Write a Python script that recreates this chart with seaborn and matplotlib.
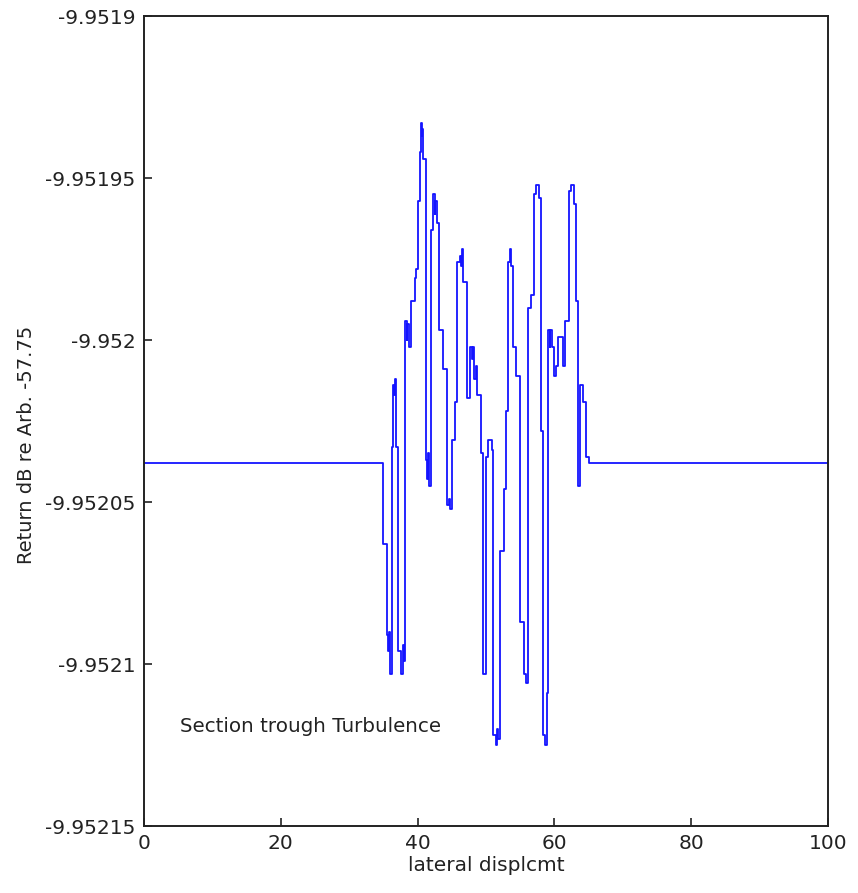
import numpy as np
import pandas as pd
import seaborn as sns
import matplotlib.pyplot as plt

# step edges (lateral displacement) and the level held from each edge on
edges = [0, 35.0, 35.5, 35.7, 35.8, 35.9, 36.0, 36.2, 36.4, 36.6,
         36.7, 36.9, 37.2, 37.6, 37.8, 38.0, 38.2, 38.4, 38.5, 38.7,
         39.1, 39.6, 39.8, 40.0, 40.3, 40.5, 40.6, 40.7, 40.8, 41.2,
         41.4, 41.5, 41.6, 42.0, 42.3, 42.5, 42.6, 42.8, 43.1, 43.7,
         44.3, 44.6, 44.8, 45.0, 45.4, 45.8, 46.2, 46.4, 46.5, 46.7,
         47.2, 47.6, 47.9, 48.1, 48.3, 48.5, 48.7, 49.3, 49.5, 50.0,
         50.3, 50.9, 51.1, 51.4, 51.6, 51.8, 52.0, 52.6, 52.9, 53.2,
         53.5, 53.7, 54.0, 54.4, 55.0, 55.5, 55.8, 56.1, 56.6, 57.0,
         57.3, 57.8, 58.1, 58.3, 58.6, 58.9, 59.1, 59.3, 59.4, 59.6,
         60.0, 60.3, 60.6, 61.3, 61.6, 62.1, 62.5, 62.9, 63.2, 63.4,
         63.5, 63.8, 64.2, 64.6, 65.0, 100]
levels = [-9.952038, -9.952063, -9.952091, -9.952096, -9.952090, -9.952099, -9.952103, -9.952033, -9.952014, -9.952017,
          -9.952012, -9.952033, -9.952096, -9.952103, -9.952094, -9.952099, -9.951994, -9.952000, -9.951995, -9.952002,
          -9.951988, -9.951981, -9.951978, -9.951957, -9.951942, -9.951933, -9.951937, -9.951935, -9.951944, -9.952037,
          -9.952043, -9.952035, -9.952045, -9.951966, -9.951955, -9.951961, -9.951957, -9.951964, -9.951997, -9.952009,
          -9.952051, -9.952049, -9.952052, -9.952031, -9.952019, -9.951976, -9.951974, -9.951977, -9.951972, -9.951982,
          -9.952018, -9.952002, -9.952006, -9.952002, -9.952012, -9.952008, -9.952017, -9.952035, -9.952103, -9.952036,
          -9.952031, -9.952034, -9.952122, -9.952125, -9.952120, -9.952123, -9.952065, -9.952046, -9.952022, -9.951976,
          -9.951972, -9.951977, -9.952002, -9.952011, -9.952087, -9.952103, -9.952106, -9.951990, -9.951986, -9.951955,
          -9.951952, -9.951956, -9.952028, -9.952122, -9.952125, -9.952109, -9.951997, -9.952002, -9.951997, -9.952002,
          -9.952011, -9.952008, -9.951999, -9.952008, -9.951994, -9.951954, -9.951952, -9.951958, -9.951988, -9.952039,
          -9.952045, -9.952014, -9.952019, -9.952036, -9.952038, -9.952038]

yticks = [-9.9519, -9.95195, -9.952, -9.95205, -9.9521, -9.95215]
ytick_labels = ['-9.9519', '-9.95195', '-9.952', '-9.95205', '-9.9521', '-9.95215']
xticks = [0, 20, 40, 60, 80, 100]

df = pd.DataFrame({'x': edges, 'y': levels})

sns.set_style('white')
fig = plt.figure(figsize=(8.58, 8.93), dpi=100)
ax = fig.add_axes([0.1678, 0.075, 0.7972, 0.907])

sns.lineplot(data=df, x='x', y='y', estimator=None, sort=False, drawstyle='steps-post',
             color='#1414ff', linewidth=1.3, ax=ax)

ax.set_xlim(0, 100)
ax.set_ylim(-9.95215, -9.9519)
ax.set_xticks(xticks)
ax.set_xticklabels([str(t) for t in xticks])
ax.set_yticks(yticks)
ax.set_yticklabels(ytick_labels)
ax.tick_params(direction='in', length=6, width=1.2, labelsize=14.5, colors='#222222',
               left=True, bottom=True, top=False, right=False, pad=6)
for s in ax.spines.values():
    s.set_color('#222222')
    s.set_linewidth(1.4)

ax.set_xlabel('lateral displcmt', fontsize=14.5, color='#222222', labelpad=2)
ax.set_ylabel('Return dB re Arb. -57.75', fontsize=14, color='#222222')
ax.yaxis.set_label_coords(-0.158, 0.47)
ax.text(5.3, -9.9521194, 'Section trough Turbulence', fontsize=14.3, color='#222222',
        va='center', ha='left')

plt.savefig('out.png', dpi=100)
